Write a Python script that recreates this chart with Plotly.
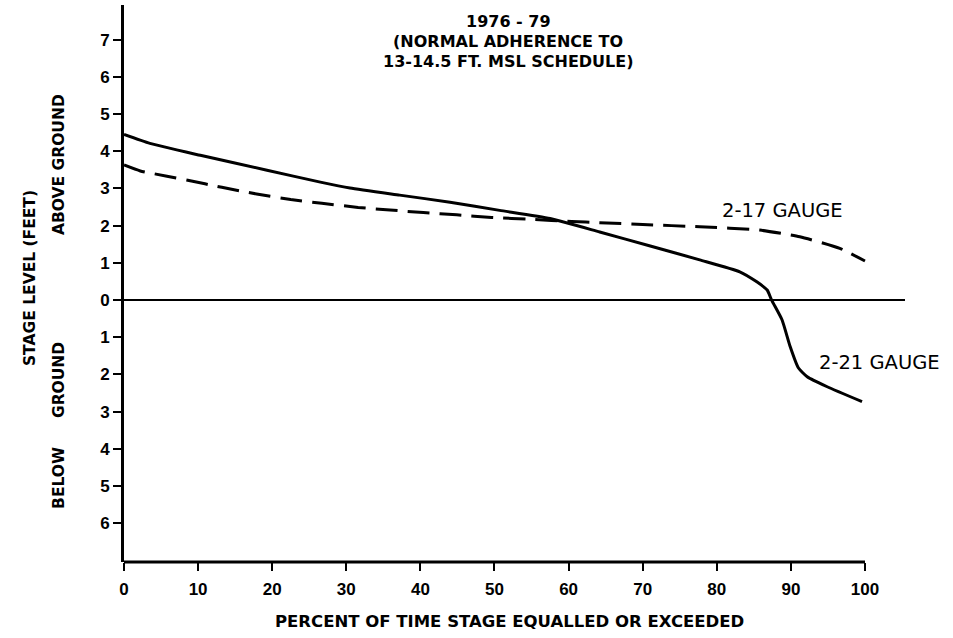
import plotly.graph_objects as go

# ---- data ----
pct_221 = [0, 3.5, 10.3, 19.3, 26.5, 30.5, 37.2, 44, 50.7, 57.5, 64.2, 70.9, 77.7,
           83.1, 85.4, 86.8, 87.4, 88.8, 89.9, 91.0, 92.2, 94.9, 99.6]
stage_221 = [4.45, 4.21, 3.89, 3.49, 3.17, 3.01, 2.82, 2.63, 2.41, 2.19, 1.83, 1.46, 1.08,
             0.76, 0.49, 0.27, 0.0, -0.53, -1.25, -1.82, -2.06, -2.33, -2.73]

pct_217 = [0, 2.2, 5.8, 8.6, 13.2, 17.9, 22.5, 26.7, 31.6, 35.9, 40.4, 44.9, 49.6,
           55, 60.4, 64.2, 70, 77.7, 85.8, 91.2, 96.6, 100]
stage_217 = [3.63, 3.47, 3.33, 3.22, 3.03, 2.85, 2.70, 2.6, 2.49, 2.42, 2.35, 2.29, 2.22,
             2.17, 2.11, 2.08, 2.03, 1.97, 1.88, 1.7, 1.39, 1.05]

y_tickvals = [-6, -5, -4, -3, -2, -1, 0, 1, 2, 3, 4, 5, 6, 7]
y_ticktext = ["6", "5", "4", "3", "2", "1", "0", "1", "2", "3", "4", "5", "6", "7"]
x_tickvals = [0, 10, 20, 30, 40, 50, 60, 70, 80, 90, 100]
x_ticktext = ["0", "10", "20", "30", "40", "50", "60", "70", "80", "90", "100"]

title_lines = ["1976 - 79", "(NORMAL ADHERENCE TO", "13-14.5 FT. MSL SCHEDULE)"]
x_title = "PERCENT OF TIME STAGE EQUALLED OR EXCEEDED"
y_title = "STAGE LEVEL (FEET)"

fig = go.Figure()
fig.add_trace(go.Scatter(x=pct_221, y=stage_221, mode="lines",
                         line=dict(color="black", width=3, shape="spline", smoothing=0.5),
                         showlegend=False, hoverinfo="skip"))
fig.add_trace(go.Scatter(x=pct_217, y=stage_217, mode="lines",
                         line=dict(color="black", width=3, dash="22px,10px",
                                   shape="spline", smoothing=0.5),
                         showlegend=False, hoverinfo="skip"))

tickfont = dict(family="Liberation Sans", size=17, color="black", weight="bold")

fig.update_layout(
    width=953, height=638, autosize=False,
    margin=dict(l=124, r=48, t=5, b=76, pad=0),
    paper_bgcolor="white", plot_bgcolor="white",
    xaxis=dict(range=[0, 105.4], showgrid=False, zeroline=False, showline=False,
               tickmode="array", tickvals=x_tickvals, ticktext=x_ticktext,
               ticks="outside", ticklen=8, tickwidth=2, tickcolor="black",
               ticklabelstandoff=4,
               tickfont=tickfont, fixedrange=True),
    yaxis=dict(range=[-7.04, 7.93], showgrid=False, zeroline=True,
               zerolinecolor="black", zerolinewidth=2,
               showline=True, linecolor="black", linewidth=3,
               tickmode="array", tickvals=y_tickvals, ticktext=y_ticktext,
               ticks="outside", ticklen=8, tickwidth=1.5, tickcolor="black",
               tickfont=tickfont, fixedrange=True),
    shapes=[dict(type="line", xref="x", yref="paper", x0=0, x1=100, y0=0, y1=0,
                 line=dict(color="black", width=3))],
)

ann = []
title_y = [7.50, 6.95, 6.40]
for t, yy in zip(title_lines, title_y):
    ann.append(dict(text=t, xref="paper", yref="y", x=0.4917, y=yy, showarrow=False,
                    xanchor="center", yanchor="middle",
                    font=dict(family="DejaVu Sans", size=16, color="black", weight="bold")))

ann.append(dict(text="2-17 GAUGE", xref="x", yref="y", x=88.8, y=2.42, showarrow=False,
                xanchor="center", yanchor="middle",
                font=dict(family="DejaVu Sans", size=19.5, color="black")))
ann.append(dict(text="2-21 GAUGE", xref="x", yref="y", x=102.0, y=-1.67, showarrow=False,
                xanchor="center", yanchor="middle",
                font=dict(family="DejaVu Sans", size=19.5, color="black")))

ann.append(dict(text=x_title, xref="paper", yref="paper", x=0.4936, y=-0.1077,
                showarrow=False, xanchor="center", yanchor="middle",
                font=dict(family="DejaVu Sans", size=16.5, color="black", weight="bold")))

side_font = dict(family="DejaVu Sans", size=15.5, color="black", weight="bold")
ann.append(dict(text=y_title, xref="paper", yref="y", x=-0.1204, y=0.59, showarrow=False,
                textangle=-90, xanchor="center", yanchor="middle", font=side_font))
ann.append(dict(text="ABOVE GROUND", xref="paper", yref="y", x=-0.0832, y=3.63,
                showarrow=False, textangle=-90, xanchor="center", yanchor="middle",
                font=side_font))
ann.append(dict(text="GROUND", xref="paper", yref="y", x=-0.0832, y=-2.15,
                showarrow=False, textangle=-90, xanchor="center", yanchor="middle",
                font=side_font))
ann.append(dict(text="BELOW", xref="paper", yref="y", x=-0.0832, y=-4.78,
                showarrow=False, textangle=-90, xanchor="center", yanchor="middle",
                font=side_font))

fig.update_layout(annotations=ann)
fig.write_html("out.html")
